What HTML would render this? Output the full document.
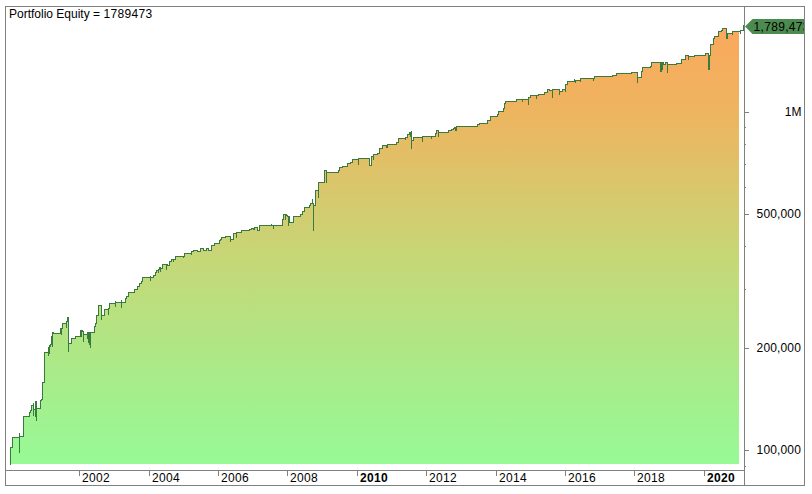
<!DOCTYPE html>
<html><head><meta charset="utf-8"><style>
html,body{margin:0;padding:0;background:#fff;}
body{width:812px;height:494px;overflow:hidden;position:relative;}
svg{position:absolute;left:0;top:0;}
text{font-family:"Liberation Sans",sans-serif;font-size:12px;fill:#000;}
</style></head><body>
<svg width="812" height="494" viewBox="0 0 812 494">
<defs>
<linearGradient id="g" gradientUnits="userSpaceOnUse" x1="0" y1="6" x2="0" y2="464">
<stop offset="0.0" stop-color="#fea45a"/>
<stop offset="0.083" stop-color="#f8aa5d"/>
<stop offset="0.238" stop-color="#edb560"/>
<stop offset="0.5502" stop-color="#c6d777"/>
<stop offset="0.8603" stop-color="#a3ef8d"/>
<stop offset="1.0" stop-color="#97fa96"/>
</linearGradient>
</defs>
<polygon points="10.0,464.0 10.5,464.0 10.5,447.5 12.5,447.5 12.5,437.5 19.5,437.5 19.5,436.5 23.5,436.5 23.5,416.5 29.5,416.5 29.5,412.5 30.5,412.5 30.5,410.5 31.5,410.5 31.5,405.5 33.5,405.5 33.5,409.5 35.5,409.5 35.5,401.5 36.5,401.5 36.5,408.5 40.5,408.5 40.5,400.5 41.5,400.5 41.5,399.5 42.5,399.5 42.5,382.5 44.5,382.5 44.5,352.5 48.5,352.5 48.5,347.5 49.5,347.5 49.5,345.5 50.5,345.5 50.5,344.5 51.5,344.5 51.5,336.5 52.5,336.5 52.5,332.5 53.5,332.5 53.5,333.5 60.5,333.5 60.5,328.5 61.5,328.5 62.5,328.5 62.5,323.5 66.5,323.5 66.5,321.5 67.5,321.5 67.5,317.5 68.5,317.5 68.5,343.5 71.5,343.5 71.5,338.5 75.5,338.5 75.5,336.5 80.5,336.5 80.5,330.5 81.5,330.5 82.5,330.5 82.5,331.5 83.5,331.5 83.5,334.5 87.5,334.5 87.5,332.5 87.5,332.5 88.5,332.5 89.5,332.5 90.5,332.5 90.5,332.5 94.5,332.5 94.5,326.5 94.5,326.5 95.5,326.5 95.5,323.5 96.5,323.5 96.5,315.5 98.5,315.5 98.5,305.5 101.5,305.5 101.5,315.5 104.5,315.5 104.5,309.5 108.5,309.5 108.5,308.5 109.5,308.5 109.5,303.5 115.5,303.5 115.5,302.5 121.5,302.5 125.5,302.5 125.5,298.5 126.5,298.5 126.5,296.5 128.5,296.5 128.5,292.5 134.5,292.5 134.5,289.5 137.5,289.5 137.5,286.5 139.5,286.5 139.5,283.5 141.5,283.5 141.5,281.5 142.5,281.5 142.5,277.5 150.5,277.5 150.5,277.5 153.5,277.5 153.5,275.5 155.5,275.5 155.5,272.5 156.5,272.5 156.5,270.5 158.5,270.5 158.5,269.5 159.5,269.5 159.5,267.5 160.5,267.5 160.5,268.5 162.5,268.5 162.5,264.5 166.5,264.5 167.5,264.5 167.5,265.5 169.5,265.5 169.5,261.5 171.5,261.5 171.5,259.5 173.5,259.5 175.5,259.5 175.5,256.5 183.5,256.5 184.5,256.5 184.5,253.5 191.5,253.5 191.5,251.5 193.5,251.5 193.5,250.5 197.5,250.5 197.5,251.5 200.5,251.5 200.5,248.5 203.5,248.5 203.5,250.5 206.5,250.5 206.5,248.5 208.5,248.5 208.5,250.5 211.5,250.5 211.5,245.5 214.5,245.5 214.5,243.5 219.5,243.5 219.5,240.5 220.5,240.5 220.5,239.5 221.5,239.5 221.5,237.5 225.5,237.5 225.5,236.5 230.5,236.5 230.5,239.5 233.5,239.5 233.5,233.5 236.5,233.5 236.5,233.5 236.5,232.5 241.5,232.5 241.5,230.5 249.5,230.5 249.5,229.5 251.5,229.5 251.5,228.5 253.5,228.5 253.5,229.5 254.5,229.5 254.5,227.5 257.5,227.5 257.5,230.5 259.5,230.5 259.5,225.5 271.5,225.5 273.5,225.5 282.5,225.5 282.5,219.5 283.5,219.5 283.5,214.5 285.5,214.5 286.5,214.5 286.5,215.5 287.5,215.5 287.5,216.5 288.5,216.5 289.5,216.5 289.5,222.5 293.5,222.5 293.5,216.5 300.5,216.5 300.5,214.5 302.5,214.5 302.5,211.5 304.5,211.5 304.5,207.5 309.5,207.5 309.5,205.5 310.5,205.5 310.5,203.5 312.5,203.5 313.5,203.5 313.5,205.5 315.5,205.5 315.5,190.5 318.5,190.5 318.5,190.5 318.5,182.5 324.5,182.5 324.5,175.5 324.5,175.5 324.5,170.5 326.5,170.5 326.5,172.5 338.5,172.5 338.5,170.5 339.5,170.5 339.5,167.5 342.5,167.5 342.5,166.5 347.5,166.5 347.5,163.5 350.5,163.5 350.5,162.5 352.5,162.5 352.5,159.5 358.5,159.5 358.5,158.5 369.5,158.5 369.5,165.5 371.5,165.5 371.5,156.5 373.5,156.5 373.5,154.5 377.5,154.5 377.5,153.5 379.5,153.5 379.5,148.5 382.5,148.5 382.5,145.5 386.5,145.5 386.5,147.5 387.5,147.5 387.5,144.5 396.5,144.5 396.5,142.5 398.5,142.5 398.5,138.5 405.5,138.5 405.5,137.5 407.5,137.5 407.5,134.5 409.5,134.5 409.5,132.5 410.5,132.5 411.5,132.5 411.5,132.5 411.5,140.5 413.5,140.5 413.5,137.5 422.5,137.5 422.5,136.5 431.5,136.5 435.5,136.5 435.5,133.5 436.5,133.5 436.5,130.5 438.5,130.5 438.5,133.5 438.5,133.5 438.5,132.5 442.5,132.5 448.5,132.5 448.5,130.5 451.5,130.5 451.5,129.5 453.5,129.5 453.5,128.5 454.5,128.5 454.5,127.5 455.5,127.5 456.5,127.5 456.5,127.5 456.5,126.5 477.5,126.5 477.5,124.5 479.5,124.5 479.5,123.5 487.5,123.5 487.5,120.5 490.5,120.5 490.5,116.5 497.5,116.5 497.5,114.5 498.5,114.5 498.5,111.5 503.5,111.5 503.5,108.5 504.5,108.5 504.5,103.5 505.5,103.5 505.5,101.5 516.5,101.5 516.5,99.5 522.5,99.5 528.5,99.5 528.5,97.5 530.5,97.5 530.5,95.5 536.5,95.5 538.5,95.5 538.5,94.5 544.5,94.5 544.5,92.5 547.5,92.5 547.5,89.5 549.5,89.5 549.5,90.5 552.5,90.5 552.5,89.5 559.5,89.5 559.5,91.5 562.5,91.5 562.5,89.5 565.5,89.5 565.5,85.5 565.5,85.5 565.5,84.5 567.5,84.5 567.5,81.5 574.5,81.5 575.5,81.5 575.5,80.5 580.5,80.5 580.5,78.5 593.5,78.5 594.5,78.5 594.5,76.5 612.5,76.5 612.5,75.5 616.5,75.5 616.5,73.5 631.5,73.5 631.5,72.5 637.5,72.5 637.5,77.5 641.5,77.5 641.5,71.5 642.5,71.5 642.5,67.5 650.5,67.5 650.5,66.5 651.5,66.5 651.5,62.5 660.5,62.5 660.5,71.5 661.5,71.5 661.5,62.5 662.5,62.5 663.5,62.5 663.5,64.5 665.5,64.5 665.5,62.5 667.5,62.5 667.5,64.5 676.5,64.5 676.5,63.5 681.5,63.5 681.5,59.5 685.5,59.5 685.5,55.5 687.5,55.5 688.5,55.5 688.5,56.5 694.5,56.5 694.5,55.5 705.5,55.5 705.5,53.5 708.5,53.5 708.5,69.5 709.5,69.5 709.5,55.5 710.5,55.5 710.5,44.5 713.5,44.5 713.5,38.5 714.5,38.5 714.5,36.5 718.5,36.5 718.5,31.5 721.5,31.5 721.5,30.5 722.5,30.5 722.5,28.5 726.5,28.5 726.5,38.5 727.5,38.5 727.5,33.5 732.5,33.5 732.5,31.5 739.0,31.5 739.0,30.5 739.0,30.5 739.0,25.5 739.0,25.5 739.0,25.5 739.0,464.0" fill="url(#g)" shape-rendering="crispEdges"/>
<path d="M10.5,464.5 V447.5 H12.5 V437.5 H19.5 V432.5 V437.5 V452.5 V437.5 V436.5 H23.5 V416.5 H29.5 V412.5 H30.5 V410.5 H31.5 V405.5 H33.5 V402.5 V405.5 V415.5 V405.5 V409.5 H35.5 V416.5 V409.5 V401.5 H36.5 V400.5 V401.5 V420.5 V401.5 V408.5 H40.5 V400.5 H41.5 V399.5 H42.5 V382.5 H44.5 V352.5 H48.5 V355.5 V352.5 V347.5 H49.5 V353.5 V347.5 V345.5 H50.5 V346.5 V345.5 V344.5 H51.5 V336.5 H52.5 V346.5 V336.5 V332.5 H53.5 V333.5 H60.5 V328.5 H61.5 V334.5 V328.5 H62.5 V323.5 H66.5 V321.5 V327.5 V321.5 H67.5 V317.5 H68.5 V351.5 V317.5 V343.5 H71.5 V338.5 H75.5 V336.5 H80.5 V330.5 H81.5 V336.5 V330.5 H82.5 V331.5 H83.5 V341.5 V331.5 V334.5 H87.5 V332.5 H87.5 V338.5 V332.5 H88.5 V342.5 V332.5 H89.5 V344.5 V332.5 H90.5 V347.5 V332.5 V332.5 H94.5 V326.5 H94.5 V330.5 V326.5 H95.5 V323.5 H96.5 V315.5 H98.5 V305.5 H101.5 V319.5 V305.5 V315.5 H104.5 V309.5 H108.5 V314.5 V309.5 V308.5 H109.5 V303.5 H115.5 V300.5 V303.5 V306.5 V303.5 V302.5 H121.5 V299.5 V302.5 V307.5 V302.5 H125.5 V298.5 H126.5 V296.5 H128.5 V292.5 H134.5 V289.5 H137.5 V286.5 H139.5 V283.5 H141.5 V281.5 H142.5 V277.5 H150.5 V275.5 V277.5 V280.5 V277.5 V277.5 H153.5 V275.5 H155.5 V274.5 V275.5 V272.5 H156.5 V270.5 H158.5 V272.5 V270.5 V269.5 H159.5 V267.5 H160.5 V271.5 V267.5 V268.5 H162.5 V264.5 H166.5 V269.5 V264.5 H167.5 V263.5 V264.5 V265.5 H169.5 V261.5 H171.5 V259.5 H173.5 V261.5 V259.5 H175.5 V256.5 H183.5 V257.5 V256.5 H184.5 V253.5 H191.5 V251.5 V254.5 V251.5 H193.5 V250.5 H197.5 V251.5 H200.5 V248.5 H203.5 V250.5 H206.5 V248.5 H208.5 V250.5 H211.5 V245.5 H214.5 V243.5 H219.5 V240.5 H220.5 V239.5 H221.5 V237.5 H225.5 V236.5 H230.5 V239.5 V241.5 V239.5 H233.5 V233.5 H236.5 V237.5 V233.5 H236.5 V232.5 H241.5 V230.5 H249.5 V229.5 H251.5 V228.5 H253.5 V229.5 H254.5 V227.5 H257.5 V230.5 H259.5 V225.5 H271.5 V223.5 V225.5 H273.5 V228.5 V225.5 H282.5 V219.5 H283.5 V214.5 H285.5 V213.5 V214.5 V219.5 V214.5 H286.5 V215.5 H287.5 V216.5 H288.5 V225.5 V216.5 H289.5 V222.5 H293.5 V216.5 H300.5 V214.5 H302.5 V211.5 H304.5 V207.5 H309.5 V205.5 H310.5 V203.5 H312.5 V198.5 V203.5 H313.5 V230.5 V203.5 V205.5 H315.5 V190.5 H318.5 V197.5 V190.5 H318.5 V182.5 H324.5 V175.5 H324.5 V170.5 H326.5 V182.5 V170.5 V172.5 H338.5 V170.5 H339.5 V167.5 H342.5 V166.5 H347.5 V163.5 H350.5 V162.5 H352.5 V159.5 H358.5 V164.5 V159.5 V158.5 V159.5 V158.5 H369.5 V165.5 H371.5 V156.5 H373.5 V159.5 V156.5 V154.5 H377.5 V153.5 H379.5 V148.5 H382.5 V145.5 H386.5 V147.5 H387.5 V144.5 H396.5 V142.5 H398.5 V138.5 H405.5 V139.5 V138.5 V137.5 H407.5 V134.5 H409.5 V132.5 H410.5 V136.5 V132.5 H411.5 V130.5 V132.5 H411.5 V148.5 V132.5 V140.5 H413.5 V137.5 H422.5 V141.5 V137.5 V136.5 H431.5 V138.5 V136.5 H435.5 V133.5 H436.5 V130.5 H438.5 V133.5 H438.5 V136.5 V133.5 V132.5 H442.5 V131.5 V132.5 H448.5 V130.5 H451.5 V129.5 H453.5 V128.5 H454.5 V127.5 H455.5 V130.5 V127.5 H456.5 V130.5 V127.5 H456.5 V126.5 H477.5 V124.5 H479.5 V123.5 H487.5 V120.5 H490.5 V116.5 H497.5 V114.5 H498.5 V111.5 H503.5 V108.5 H504.5 V103.5 H505.5 V101.5 H516.5 V99.5 H522.5 V101.5 V99.5 H528.5 V104.5 V99.5 V97.5 H530.5 V95.5 H536.5 V98.5 V95.5 V94.5 V95.5 H538.5 V94.5 H544.5 V92.5 H547.5 V89.5 H549.5 V90.5 H552.5 V97.5 V90.5 V89.5 H559.5 V94.5 V89.5 V91.5 H562.5 V89.5 H565.5 V91.5 V89.5 V85.5 H565.5 V84.5 H567.5 V81.5 H574.5 V78.5 V81.5 H575.5 V82.5 V81.5 V80.5 H580.5 V81.5 V80.5 V78.5 H593.5 V80.5 V78.5 H594.5 V76.5 H612.5 V75.5 H616.5 V73.5 H631.5 V72.5 H637.5 V82.5 V72.5 V77.5 H641.5 V71.5 H642.5 V67.5 H650.5 V66.5 H651.5 V62.5 H660.5 V71.5 H661.5 V62.5 H662.5 V69.5 V62.5 H663.5 V64.5 H665.5 V62.5 H667.5 V72.5 V62.5 V64.5 H676.5 V63.5 H681.5 V59.5 H685.5 V55.5 H687.5 V54.5 V55.5 H688.5 V59.5 V55.5 V56.5 H694.5 V55.5 H705.5 V53.5 H708.5 V69.5 H709.5 V55.5 H710.5 V44.5 H713.5 V38.5 H714.5 V36.5 H718.5 V31.5 H721.5 V30.5 H722.5 V28.5 H726.5 V38.5 H727.5 V33.5 H732.5 V30.5 V33.5 V34.5 V33.5 V31.5 H740.5 V33.5 V31.5 V30.5 H743.5 V25.5 H744.5" fill="none" stroke="#387a3f" stroke-width="1" stroke-linejoin="miter" stroke-linecap="square" shape-rendering="crispEdges"/>
<g stroke="#808080" stroke-width="1" fill="none" shape-rendering="crispEdges">
<rect x="5.5" y="6.5" width="799" height="479"/>
<line x1="744.5" y1="6" x2="744.5" y2="486"/>
<line x1="5" y1="470.5" x2="744" y2="470.5"/>
<line x1="79.5" y1="471" x2="79.5" y2="476"/>
<line x1="149.5" y1="471" x2="149.5" y2="476"/>
<line x1="218.5" y1="471" x2="218.5" y2="476"/>
<line x1="287.5" y1="471" x2="287.5" y2="476"/>
<line x1="357.5" y1="471" x2="357.5" y2="476"/>
<line x1="426.5" y1="471" x2="426.5" y2="476"/>
<line x1="496.5" y1="471" x2="496.5" y2="476"/>
<line x1="565.5" y1="471" x2="565.5" y2="476"/>
<line x1="634.5" y1="471" x2="634.5" y2="476"/>
<line x1="704.5" y1="471" x2="704.5" y2="476"/>
<line x1="745" y1="112.5" x2="749" y2="112.5"/>
<line x1="745" y1="127.5" x2="746" y2="127.5"/>
<line x1="745" y1="144.5" x2="746" y2="144.5"/>
<line x1="745" y1="164.5" x2="746" y2="164.5"/>
<line x1="745" y1="187.5" x2="746" y2="187.5"/>
<line x1="745" y1="214.5" x2="749" y2="214.5"/>
<line x1="745" y1="246.5" x2="746" y2="246.5"/>
<line x1="745" y1="289.5" x2="746" y2="289.5"/>
<line x1="745" y1="348.5" x2="749" y2="348.5"/>
<line x1="745" y1="450.5" x2="749" y2="450.5"/>
<line x1="745" y1="466.5" x2="746" y2="466.5"/>
</g>
<text x="82.0" y="482" letter-spacing="0.33">2002</text>
<text x="152.0" y="482" letter-spacing="0.33">2004</text>
<text x="221.0" y="482" letter-spacing="0.33">2006</text>
<text x="290.0" y="482" letter-spacing="0.33">2008</text>
<text x="360.0" y="482" font-weight="bold" letter-spacing="0.33">2010</text>
<text x="429.0" y="482" letter-spacing="0.33">2012</text>
<text x="499.0" y="482" letter-spacing="0.33">2014</text>
<text x="568.0" y="482" letter-spacing="0.33">2016</text>
<text x="637.0" y="482" letter-spacing="0.33">2018</text>
<text x="707.0" y="482" font-weight="bold" letter-spacing="0.33">2020</text>
<text x="801.7" y="116" text-anchor="end" letter-spacing="0.15">1M</text>
<text x="801" y="217.5" text-anchor="end" letter-spacing="0.15">500,000</text>
<text x="801" y="351.7" text-anchor="end" letter-spacing="0.15">200,000</text>
<text x="801" y="454" text-anchor="end" letter-spacing="0.15">100,000</text>
<text x="9" y="18">Portfolio Equity = <tspan letter-spacing="0.33">1789473</tspan></text>
<svg x="0" y="0" width="804" height="494" overflow="hidden">
<polygon points="745,26.5 752.5,19 806,19 806,34 752.5,34" fill="#4b8b4f"/>
<text x="753.5" y="30.5" fill="#000" letter-spacing="0.33">1,789,473</text>
</svg>
</svg>
</body></html>
